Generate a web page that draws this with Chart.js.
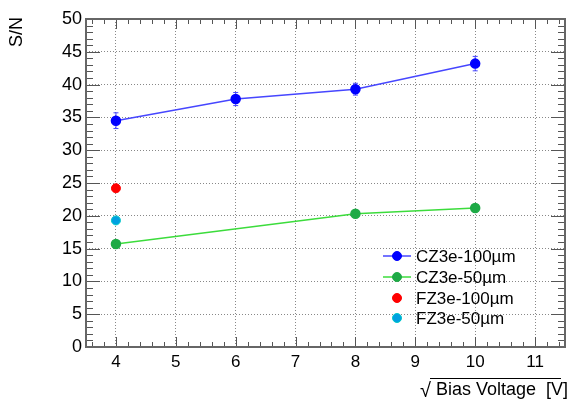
<!DOCTYPE html>
<html lang="en">
<head>
    <meta charset="UTF-8">
    <title>S/N vs Bias Voltage</title>
    <style>
        html, body { margin: 0; padding: 0; background: #fff; }
        #wrap { width: 571px; height: 399px; }
    </style>
</head>
<body>
    <div id="wrap"><canvas id="snChart" width="571" height="399"></canvas></div>

    <script src="https://cdn.jsdelivr.net/npm/chart.js"></script>
    <script>
        // values
        const czX = [4, 6, 8, 10];
        const cz100 = [34.5, 37.8, 39.3, 43.2];
        const cz100Err = [1.2, 1.0, 0.9, 1.1];
        const cz50X = [4, 8, 10];
        const cz50 = [15.7, 20.3, 21.2];
        const cz50Err = [0.3, 0.3, 0.3];
        const fzX = [4];
        const fz100 = [24.2];
        const fz50 = [19.3];
        const xTicks = [4, 5, 6, 7, 8, 9, 10, 11];
        const seriesNames = ['CZ3e-100\u00b5m', 'CZ3e-50\u00b5m', 'FZ3e-100\u00b5m', 'FZ3e-50\u00b5m'];

        const FONT = '"Liberation Sans", Arial, sans-serif';

        function pts(xs, ys, errs) {
            return xs.map((x, i) => ({ x: x, y: ys[i], err: errs ? errs[i] : 0 }));
        }

        // vertical error bars, drawn under the markers
        const errorBars = {
            id: 'errorBars',
            beforeDatasetsDraw(chart) {
                const ctx = chart.ctx;
                const ys = chart.scales.y;
                chart.data.datasets.forEach((ds, di) => {
                    const meta = chart.getDatasetMeta(di);
                    ctx.save();
                    ctx.strokeStyle = ds.borderColor;
                    ctx.lineWidth = 1;
                    ds.data.forEach((p, i) => {
                        if (!p.err) return;
                        const px = meta.data[i].x;
                        const y1 = ys.getPixelForValue(p.y - p.err);
                        const y2 = ys.getPixelForValue(p.y + p.err);
                        ctx.beginPath();
                        ctx.moveTo(px, y1); ctx.lineTo(px, y2);
                        ctx.moveTo(px - 2.5, y1); ctx.lineTo(px + 2.5, y1);
                        ctx.moveTo(px - 2.5, y2); ctx.lineTo(px + 2.5, y2);
                        ctx.stroke();
                    });
                    ctx.restore();
                });
            }
        };

        // ROOT-like frame with inward ticks, titles and legend
        const rootFrame = {
            id: 'rootFrame',
            afterDraw(chart) {
                const ctx = chart.ctx;
                const a = chart.chartArea;
                const xs = chart.scales.x, ys = chart.scales.y;
                ctx.save();
                ctx.strokeStyle = '#555';
                ctx.lineWidth = 1;
                // x ticks every 0.2, major at integers
                for (let v = 3.6; v < 11.5; v += 0.2) {
                    const r = Math.round(v * 10) / 10;
                    const major = Math.abs(r - Math.round(r)) < 1e-6;
                    const len = major ? 10 : 5;
                    const px = Math.round(xs.getPixelForValue(r)) + 0.5;
                    ctx.beginPath();
                    ctx.moveTo(px, a.bottom); ctx.lineTo(px, a.bottom - len);
                    ctx.moveTo(px, a.top); ctx.lineTo(px, a.top + len);
                    ctx.stroke();
                }
                // y ticks every 1, major every 5
                for (let v = 1; v < 50; v++) {
                    const len = v % 5 === 0 ? 14 : 7;
                    const py = Math.round(ys.getPixelForValue(v)) + 0.5;
                    ctx.beginPath();
                    ctx.moveTo(a.left, py); ctx.lineTo(a.left + len, py);
                    ctx.moveTo(a.right, py); ctx.lineTo(a.right - len, py);
                    ctx.stroke();
                }
                // frame
                ctx.strokeStyle = '#666';
                ctx.lineWidth = 2;
                ctx.strokeRect(a.left, a.top, a.right - a.left, a.bottom - a.top);

                // y title
                ctx.fillStyle = '#000';
                ctx.font = '18px ' + FONT;
                ctx.translate(17, 32);
                ctx.rotate(-Math.PI / 2);
                ctx.textAlign = 'center';
                ctx.textBaseline = 'middle';
                ctx.fillText('S/N', 0, 0);
                ctx.setTransform(1, 0, 0, 1, 0, 0);

                // x title with root sign
                ctx.textAlign = 'left';
                ctx.textBaseline = 'alphabetic';
                ctx.font = '20px ' + FONT;
                ctx.fillText('\u221a', 420, 397);
                ctx.font = '18px ' + FONT;
                ctx.fillText('Bias Voltage  [V]', 436, 395);
                ctx.strokeStyle = '#000';
                ctx.lineWidth = 1;
                ctx.beginPath();
                ctx.moveTo(430, 378.5); ctx.lineTo(561, 378.5);
                ctx.stroke();

                // legend
                const rows = [256, 277, 298, 318];
                ctx.font = '17px ' + FONT;
                ctx.textBaseline = 'middle';
                chart.data.datasets.forEach((ds, i) => {
                    const y = rows[i];
                    if (ds.showLine) {
                        ctx.strokeStyle = ds.borderColor;
                        ctx.lineWidth = 1.5;
                        ctx.beginPath();
                        ctx.moveTo(383, y); ctx.lineTo(411, y);
                        ctx.stroke();
                    }
                    ctx.fillStyle = ds.pointBackgroundColor;
                    ctx.strokeStyle = ds.pointBorderColor;
                    ctx.lineWidth = 1;
                    ctx.beginPath();
                    ctx.arc(397, y, 4.5, 0, Math.PI * 2);
                    ctx.fill();
                    ctx.stroke();
                    ctx.fillStyle = '#000';
                    ctx.fillText(ds.label, 416, y + 1);
                });
                ctx.restore();
            }
        };

        const ctx = document.getElementById('snChart').getContext('2d');
        new Chart(ctx, {
            type: 'scatter',
            data: {
                datasets: [
                    {
                        label: seriesNames[0],
                        data: pts(czX, cz100, cz100Err),
                        showLine: true,
                        borderColor: 'rgb(70,70,255)',
                        borderWidth: 1.5,
                        pointBackgroundColor: '#0000ff',
                        pointBorderColor: '#0000ff',
                        pointRadius: 4.5
                    },
                    {
                        label: seriesNames[1],
                        data: pts(cz50X, cz50, cz50Err),
                        showLine: true,
                        borderColor: 'rgb(60,220,60)',
                        borderWidth: 1.5,
                        pointBackgroundColor: 'rgb(30,170,70)',
                        pointBorderColor: 'rgb(30,170,70)',
                        pointRadius: 4.5
                    },
                    {
                        label: seriesNames[2],
                        data: pts(fzX, fz100),
                        showLine: false,
                        borderColor: '#ff0000',
                        pointBackgroundColor: '#ff0000',
                        pointBorderColor: '#ff0000',
                        pointRadius: 4.5
                    },
                    {
                        label: seriesNames[3],
                        data: pts(fzX, fz50),
                        showLine: false,
                        borderColor: 'rgb(0,160,225)',
                        pointBackgroundColor: 'rgb(0,160,225)',
                        pointBorderColor: 'rgb(0,200,200)',
                        pointRadius: 4.5
                    }
                ]
            },
            options: {
                responsive: false,
                animation: false,
                layout: { padding: { left: 0, right: 2, top: 19, bottom: 0 } },
                plugins: {
                    legend: { display: false },
                    tooltip: { enabled: false }
                },
                scales: {
                    x: {
                        type: 'linear',
                        min: 3.5,
                        max: 11.5,
                        afterBuildTicks: s => { s.ticks = xTicks.map(v => ({ value: v })); },
                        afterFit: s => { s.height = 52; },
                        grid: { color: '#888', lineWidth: 1, drawTicks: false },
                        border: { display: false, dash: [1, 2] },
                        ticks: {
                            padding: 5,
                            color: '#000',
                            font: { family: FONT, size: 17 }
                        }
                    },
                    y: {
                        min: 0,
                        max: 50,
                        afterFit: s => { s.width = 86; },
                        grid: { color: '#888', lineWidth: 1, drawTicks: false },
                        border: { display: false, dash: [1, 2] },
                        ticks: {
                            stepSize: 5,
                            padding: 4,
                            color: '#000',
                            font: { family: FONT, size: 18 }
                        }
                    }
                }
            },
            plugins: [errorBars, rootFrame]
        });
    </script>
</body>
</html>
